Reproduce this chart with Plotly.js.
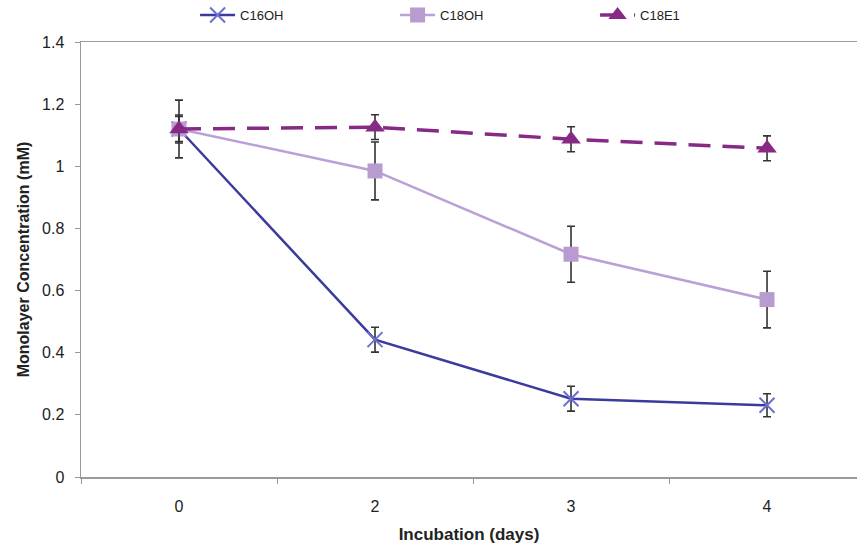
<!DOCTYPE html>
<html>
<head>
<meta charset="utf-8">
<script src="https://cdn.plot.ly/plotly-3.0.1.min.js"></script>
<style>
  html, body { margin: 0; padding: 0; background: #fff; overflow: hidden; }
  #chart { width: 857px; height: 554px; }
</style>
</head>
<body>
<div id="chart"></div>
<script>
// Incubation days (categorical axis: equally spaced)
const days = ["0", "2", "3", "4"];

// Monolayer concentration (mM) per compound
const c16oh = [1.12, 0.442, 0.252, 0.231];
const c16ohErr = [0.04, 0.04, 0.04, 0.037];

const c18oh = [1.12, 0.985, 0.717, 0.571];
const c18ohErr = [0.045, 0.093, 0.09, 0.091];

const c18e1 = [1.12, 1.126, 1.087, 1.058];
const c18e1Err = [0.093, 0.04, 0.04, 0.04];

const yTicks = [0, 0.2, 0.4, 0.6, 0.8, 1, 1.2, 1.4];
const yTickText = ["0", "0.2", "0.4", "0.6", "0.8", "1", "1.2", "1.4"];

const FONT = "'Liberation Sans Narrow', 'Arial Narrow', 'Liberation Sans', Arial, sans-serif";
const BOLD = "'Liberation Sans', Arial, sans-serif";

function errBars(arr) {
  return { type: "data", array: arr, visible: true, color: "#333333", thickness: 1.6, width: 4 };
}

const traces = [
  {
    name: "C16OH", x: days, y: c16oh, type: "scatter", mode: "lines+markers",
    line: { color: "#3b3b9e", width: 2.5 },
    marker: { symbol: "x-thin-open", size: 15, color: "#6e6ed0", line: { color: "#6e6ed0", width: 2 } },
    error_y: errBars(c16ohErr)
  },
  {
    name: "C18OH", x: days, y: c18oh, type: "scatter", mode: "lines+markers",
    line: { color: "#bba0d6", width: 2.5 },
    marker: { symbol: "square", size: 15, color: "#b89ccf" },
    error_y: errBars(c18ohErr)
  },
  {
    name: "C18E1", x: days, y: c18e1, type: "scatter", mode: "lines+markers",
    line: { color: "#862a86", width: 3.5, dash: "22px,12px" },
    marker: { symbol: "triangle-up", size: 17, color: "#862a86" },
    error_y: errBars(c18e1Err)
  }
];

const layout = {
  width: 857, height: 554,
  margin: { l: 81, r: 0, t: 42, b: 77 },
  paper_bgcolor: "#ffffff", plot_bgcolor: "#ffffff",
  font: { family: FONT, size: 15, color: "#222222" },
  showlegend: true,
  legend: {
    orientation: "h", x: 0.147, xanchor: "left", y: 1.062, yanchor: "middle",
    font: { family: FONT, size: 13, color: "#222222" },
    entrywidth: 150, entrywidthmode: "pixels", itemwidth: 35,
    bgcolor: "rgba(0,0,0,0)"
  },
  xaxis: {
    type: "category", range: [-0.5, 3.459], fixedrange: true,
    showgrid: false, zeroline: false,
    showline: true, linecolor: "#9a9a9a", linewidth: 1.5, mirror: true,
    ticks: "outside", ticklen: 5, tickcolor: "#9a9a9a", tickson: "boundaries",
    ticklabelstandoff: 14,
    tickfont: { family: FONT, size: 16, color: "#222222" },
    title: { text: "<b>Incubation (days)</b>", font: { family: BOLD, size: 17, color: "#222222" }, standoff: 14 }
  },
  yaxis: {
    range: [0, 1.4], fixedrange: true,
    showgrid: false, zeroline: false,
    showline: true, linecolor: "#9a9a9a", linewidth: 1.5,
    ticks: "outside", ticklen: 5, tickcolor: "#9a9a9a",
    tickvals: yTicks, ticktext: yTickText,
    ticklabelstandoff: 7,
    tickfont: { family: FONT, size: 16, color: "#222222" },
    title: { text: "<b>Monolayer Concentration (mM)</b>", font: { family: BOLD, size: 16, color: "#222222" }, standoff: 8 }
  }
};

Plotly.newPlot("chart", traces, layout, { displayModeBar: false, staticPlot: true });
</script>
</body>
</html>
